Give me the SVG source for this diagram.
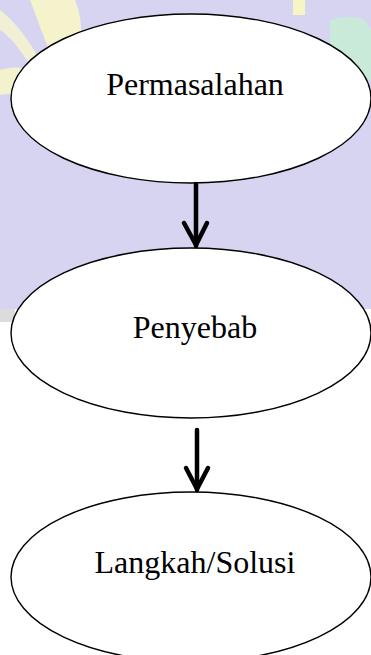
<svg xmlns="http://www.w3.org/2000/svg" width="371" height="655" viewBox="0 0 371 655">
<style>
.node ellipse{fill:#ffffff;stroke:#000000;stroke-width:1.4}
.node text{font-family:"Liberation Serif","Times New Roman",serif;font-size:32px;fill:#000000;text-anchor:middle}
.conn path{fill:none;stroke:#000000;stroke-width:4.5;stroke-linecap:round;stroke-linejoin:round}
</style>
<rect x="0" y="0" width="371" height="655" fill="#ffffff"/>
<g id="watermark">
<rect x="0" y="0" width="371" height="309" fill="#d6d4f0"/>
<rect x="0" y="309" width="15" height="13" fill="#dcdcdc"/>
<path d="M30 0 L75 0 Q92 40 62 85 Q45 40 30 0 Z" fill="#f4f3cc"/>
<path d="M0 10 Q20 25 40 60 L30 66 Q15 40 0 30 Z" fill="#f1f0d4"/>
<path d="M0 70 Q30 60 55 90 L40 110 Q20 90 0 95 Z" fill="#f3f2cf"/>
<rect x="293" y="0" width="12" height="15" fill="#f6f5c4"/>
<path d="M330 20 Q365 10 371 30 L371 80 Q345 70 330 45 Z" fill="#c9ead9"/>
</g>
<g id="node-permasalahan" class="node">
<ellipse cx="191" cy="98.5" rx="180" ry="84.5"/>
<text x="195" y="95">Permasalahan</text>
</g>
<g id="node-penyebab" class="node">
<ellipse cx="191" cy="333" rx="180" ry="85"/>
<text x="195" y="338">Penyebab</text>
</g>
<g id="node-solusi" class="node">
<ellipse cx="191" cy="577" rx="180" ry="85"/>
<text x="195" y="573">Langkah/Solusi</text>
</g>
<g id="connectors" class="conn">
<path d="M196 184 L196 246"/>
<path d="M184 223 L196 245 L207 223"/>
<path d="M197 430 L197 490"/>
<path d="M186 468 L197 489 L208 468"/>
</g>
</svg>
